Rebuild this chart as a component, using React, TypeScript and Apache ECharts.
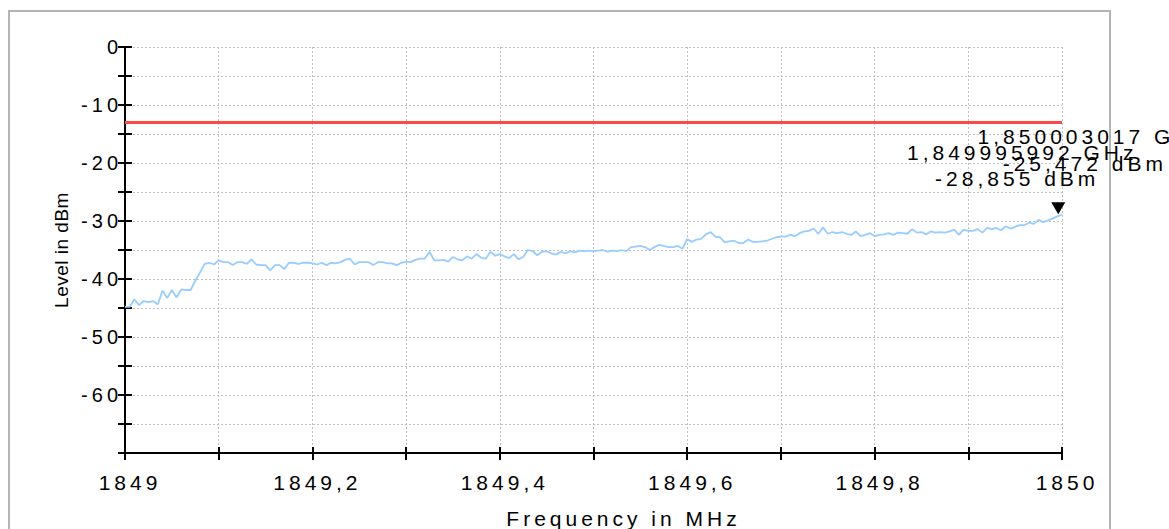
import React, { useEffect, useRef } from "react";
import * as echarts from "echarts";

// Sweep: 201 points from 1849 MHz, 0.005 MHz apart
const FREQ_START = 1849;
const FREQ_STEP = 0.005;
const levels: number[] = [
  -44.8, -44.8, -43.5, -44.5, -43.8, -44.0, -43.8, -44.4, -42.0, -43.3,
  -41.9, -43.2, -41.8, -41.9, -41.9, -40.3, -38.9, -37.4, -37.2, -37.5,
  -36.8, -37.1, -37.1, -37.6, -37.1, -37.1, -37.4, -36.6, -37.5, -37.6,
  -37.6, -38.5, -37.6, -37.6, -38.3, -37.2, -37.2, -37.4, -37.2, -37.2,
  -37.3, -37.5, -37.2, -37.6, -37.2, -37.3, -37.1, -36.7, -36.5, -37.5,
  -37.1, -37.1, -37.1, -37.6, -37.1, -37.1, -37.3, -37.3, -37.6, -37.2,
  -37.0, -37.1, -36.7, -36.5, -36.5, -35.3, -36.8, -36.8, -36.7, -37.0,
  -36.2, -36.6, -36.8, -36.1, -36.5, -35.7, -36.3, -36.5, -35.3, -36.0,
  -35.7, -36.1, -36.4, -35.7, -36.6, -36.2, -35.0, -35.2, -35.9, -35.3,
  -35.2, -35.6, -35.8, -35.3, -35.6, -35.2, -35.4, -35.1, -35.2, -35.1,
  -35.2, -35.1, -35.0, -35.3, -35.1, -35.2, -35.0, -35.2, -34.5, -34.4,
  -34.3, -34.5, -35.0, -34.5, -34.1, -34.3, -34.5, -34.5, -34.3, -34.8,
  -33.1, -33.6, -33.2, -33.1, -32.3, -31.9, -32.7, -32.8, -33.7, -33.5,
  -33.4, -33.8, -33.8, -33.2, -33.6, -33.6, -33.5, -33.4, -33.1, -32.8,
  -32.7, -32.7, -32.4, -32.6, -32.1, -31.8, -31.7, -31.3, -32.2, -31.1,
  -32.2, -31.9, -32.1, -31.9, -32.2, -32.4, -31.8, -32.6, -32.4, -32.1,
  -32.6, -32.4, -32.3, -32.1, -32.4, -32.0, -32.1, -32.2, -31.4, -32.0,
  -31.9, -32.3, -31.8, -32.0, -31.9, -32.0, -31.8, -31.5, -32.4, -31.5,
  -31.7, -31.7, -31.4, -32.0, -31.2, -31.4, -31.2, -31.6, -30.9, -31.3,
  -31.0, -30.7, -30.7, -30.3, -30.5, -29.8, -30.2, -29.9, -29.6, -29.2,
  -28.9,
];

const X_MIN = 1849;
const X_MAX = 1850;
const X_INTERVAL = 0.1;
const X_LABELS = ["1849", "1849,2", "1849,4", "1849,6", "1849,8", "1850"];
const Y_MIN = -70;
const Y_MAX = 0;
const Y_INTERVAL = 5;
const Y_LABELS = ["0", "-10", "-20", "-30", "-40", "-50", "-60"];

const LIMIT_LEVEL = -13;

// Markers
const markerFreqs = [1849.995992, 1850.003017];
const markerLevels = [-28.855, -25.472];
const markerFreqTexts = ["1,849995992 GHz", "1,850003017 GHz"];
const markerLevelTexts = ["-28,855 dBm", "-25,472 dBm"];
const markerShowSymbol = [true, false];

const FONT = "Liberation Sans";
const FONT_SIZE = 21;
const TEXT_COLOR = "#000";

export default function App() {
  const ref = useRef<HTMLDivElement>(null);
  useEffect(() => {
    const chart = echarts.init(ref.current!, null, { renderer: "svg" });
    const data = levels.map((v, i) => [
      +(FREQ_START + i * FREQ_STEP).toFixed(6),
      v,
    ]);
    const xFmt = (v: number) => {
      const k = Math.round((v - X_MIN) / X_INTERVAL);
      return k % 2 === 0 ? X_LABELS[k / 2] ?? "" : "";
    };
    const yFmt = (v: number) => {
      const k = Math.round(-v / 5);
      return k % 2 === 0 ? Y_LABELS[k / 2] ?? "" : "";
    };
    const black = { color: "#000", width: 2 };
    const grid = { color: "#bfbfbf", type: [2, 2], width: 1 };

    chart.setOption({
      animation: false,
      backgroundColor: "#fff",
      grid: {
        left: 125,
        right: 107,
        top: 47,
        bottom: 76,
        containLabel: false,
        outerBoundsMode: "none",
      },
      xAxis: [
        {
          type: "value",
          min: X_MIN,
          max: X_MAX,
          interval: X_INTERVAL,
          position: "bottom",
          name: "Frequency in MHz",
          nameLocation: "middle",
          nameGap: 55,
          nameTextStyle: {
            fontFamily: FONT,
            fontSize: FONT_SIZE,
            color: TEXT_COLOR,
            padding: [0, 0, 0, 60],
          },
          axisLine: { show: true, onZero: false, lineStyle: black },
          axisTick: { show: true, inside: false, length: 7, lineStyle: black },
          axisLabel: {
            margin: 19,
            fontFamily: FONT,
            fontSize: FONT_SIZE,
            color: TEXT_COLOR,
            padding: [0, 0, 0, 10],
            formatter: xFmt,
          },
          splitLine: { show: true, lineStyle: grid },
        },
        {
          type: "value",
          min: X_MIN,
          max: X_MAX,
          interval: X_INTERVAL,
          position: "bottom",
          axisLine: { show: false, onZero: false },
          axisTick: { show: true, inside: true, length: 6, lineStyle: black },
          axisLabel: { show: false },
          splitLine: { show: false },
        },
      ],
      yAxis: [
        {
          type: "value",
          min: Y_MIN,
          max: Y_MAX,
          interval: Y_INTERVAL,
          position: "left",
          name: "Level in dBm",
          nameLocation: "middle",
          nameGap: 54,
          nameTextStyle: {
            fontFamily: "Arimo, Liberation Sans",
            fontSize: 19,
            color: TEXT_COLOR,
          },
          axisLine: { show: true, onZero: false, lineStyle: black },
          axisTick: { show: true, inside: false, length: 7, lineStyle: black },
          axisLabel: {
            margin: 3,
            fontFamily: FONT,
            fontSize: 20,
            color: TEXT_COLOR,
            formatter: yFmt,
          },
          splitLine: { show: true, lineStyle: grid },
        },
        {
          type: "value",
          min: Y_MIN,
          max: Y_MAX,
          interval: Y_INTERVAL,
          position: "left",
          axisLine: { show: false, onZero: false },
          axisTick: { show: true, inside: true, length: 7, lineStyle: black },
          axisLabel: { show: false },
          splitLine: { show: false },
        },
      ],
      graphic: [
        {
          type: "rect",
          id: "frame",
          shape: { x: 9, y: 11, width: 1101, height: 600 },
          style: { fill: "none", stroke: "#b4b4b4", lineWidth: 2 },
          silent: true,
          z: 0,
        },
      ],
      series: [
        {
          type: "line",
          xAxisIndex: 0,
          yAxisIndex: 0,
          data,
          symbol: "none",
          silent: true,
          lineStyle: { color: "#99ccff", width: 1.8 },
          markLine: {
            silent: true,
            symbol: "none",
            label: { show: false },
            lineStyle: { color: "#fa4b4b", width: 3, type: "solid" },
            data: [{ yAxis: LIMIT_LEVEL }],
          },
          markPoint: {
            silent: true,
            data: markerFreqs
              .map((f, i) => ({ f, i }))
              .filter((m) => markerShowSymbol[m.i])
              .map((m) => ({
                coord: [m.f, markerLevels[m.i]],
                symbol: "triangle",
                symbolRotate: 180,
                symbolSize: [14, 12],
                symbolOffset: [0, -6],
                itemStyle: { color: "#000" },
                label: { show: false },
              })),
          },
        },
      ],
    });

    // Marker read-outs, positioned through the axes' own scales
    const offsets = [
      { dx1: -36, dx2: -41, dy1: -62, dy2: -36 },
      { dx1: 28, dx2: 20, dy1: -58, dy2: -31 },
    ];
    const texts: any[] = [];
    markerFreqs.forEach((f, i) => {
      const p = chart.convertToPixel({ xAxisIndex: 0, yAxisIndex: 0 }, [
        f,
        markerLevels[i],
      ]) as number[];
      const o = offsets[i];
      [
        [markerFreqTexts[i], o.dx1, o.dy1],
        [markerLevelTexts[i], o.dx2, o.dy2],
      ].forEach(([t, dx, dy], j) => {
        texts.push({
          type: "text",
          id: `mk${i}_${j}`,
          z: 10,
          silent: true,
          style: {
            text: t,
            x: p[0] + (dx as number),
            y: p[1] + (dy as number),
            fill: TEXT_COLOR,
            font: `${FONT_SIZE}px ${FONT}`,
            align: "center",
            verticalAlign: "middle",
            textAlign: "center",
            textVerticalAlign: "middle",
          },
        });
      });
    });
    chart.setOption({ graphic: texts });

    return () => chart.dispose();
  }, []);

  return (
    <>
      <style>
        {
          ".c text[style*='Liberation']{letter-spacing:4px}.c text[style*='Arimo']{letter-spacing:0.5px}"
        }
      </style>
      <div
        ref={ref}
        className="c"
        style={{ position: "fixed", left: 0, top: 0, width: 1169, height: 529 }}
      />
    </>
  );
}
